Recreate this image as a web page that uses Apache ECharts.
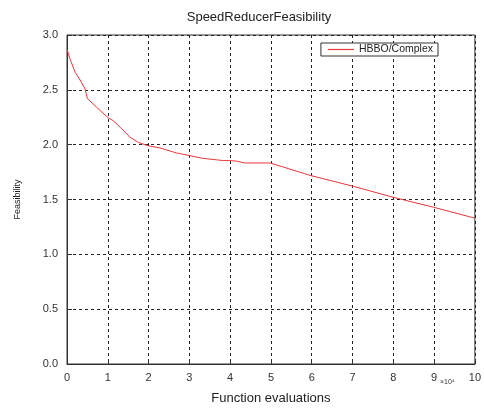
<!DOCTYPE html>
<html>
<head>
<meta charset="utf-8">
<script src="https://cdn.jsdelivr.net/npm/echarts@6/dist/echarts.min.js"></script>
<style>
  html, body { margin: 0; padding: 0; background: #fff; }
  #chart { width: 484px; height: 410px; }
</style>
</head>
<body>
<div id="chart"></div>
<script>
// Function evaluations (units of 10^4) and the best feasibility found
const evals = [0, 0.07, 0.2, 0.32, 0.44, 0.5, 0.73, 1.01, 1.13, 1.3, 1.54, 1.75, 1.99, 2.28, 2.68, 3.01, 3.34, 3.83, 4.0, 4.16, 4.36, 4.98, 5.96, 7.02, 8.0, 8.98, 10];
const feasibility = [2.87, 2.785, 2.66, 2.59, 2.51, 2.42, 2.34, 2.245, 2.22, 2.16, 2.07, 2.02, 1.99, 1.97, 1.925, 1.9, 1.875, 1.855, 1.855, 1.85, 1.833, 1.833, 1.72, 1.62, 1.52, 1.43, 1.33];
const seriesName = 'HBBO/Complex';
const xTicks = [0, 1, 2, 3, 4, 5, 6, 7, 8, 9, 10];
const yTicks = [0.0, 0.5, 1.0, 1.5, 2.0, 2.5, 3.0];

const chart = echarts.init(document.getElementById('chart'), null, { renderer: 'canvas' });
const font = 'Arial, "Liberation Sans", sans-serif';
const gridStyle = { color: '#222', type: [3, 3], width: 1 };

chart.setOption({
  animation: false,
  backgroundColor: '#fff',
  textStyle: { fontFamily: font },
  title: {
    text: 'SpeedReducerFeasibility',
    left: 254, top: 6, textAlign: 'center',
    textStyle: { fontSize: 13, fontWeight: 'normal', color: '#222', fontFamily: font }
  },
  legend: {
    data: [seriesName],
    right: 46, top: 43,
    orient: 'vertical',
    padding: [1, 5, 1, 7],
    backgroundColor: '#fff',
    borderColor: '#333', borderWidth: 1,
    icon: 'rect', itemWidth: 26, itemHeight: 1.2, itemGap: 0,
    textStyle: { fontSize: 10.5, color: '#222', fontFamily: font }
  },
  grid: { left: 67, right: 9, top: 35, bottom: 45, show: true, borderColor: '#333', borderWidth: 1 },
  xAxis: {
    type: 'value', min: xTicks[0], max: xTicks[xTicks.length - 1], interval: 1,
    name: 'Function evaluations', nameLocation: 'middle', nameGap: 28,
    nameTextStyle: { fontSize: 13, color: '#222', fontFamily: font },
    axisLine: { show: true, lineStyle: { color: '#333' } },
    axisTick: { show: true, inside: true, length: 5, lineStyle: { color: '#333' } },
    axisLabel: { fontSize: 11, color: '#333', margin: 8, formatter: v => String(v) },
    splitLine: { show: true, lineStyle: gridStyle }
  },
  yAxis: {
    type: 'value', min: yTicks[0], max: yTicks[yTicks.length - 1], interval: 0.5,
    name: 'Feasibility', nameLocation: 'middle', nameGap: 45,
    nameTextStyle: { fontSize: 9, color: '#222', fontFamily: font },
    axisLine: { show: true, lineStyle: { color: '#333' } },
    axisTick: { show: true, inside: true, length: 5, lineStyle: { color: '#333' } },
    axisLabel: { fontSize: 11, color: '#333', margin: 9, formatter: v => v.toFixed(1) },
    splitLine: { show: true, lineStyle: gridStyle }
  },
  graphic: [{
    type: 'text', left: 440, top: 379,
    style: { text: '×10⁴', fontSize: 7, fill: '#333', fontFamily: font }
  }],
  series: [{
    name: seriesName,
    type: 'line',
    data: evals.map((x, i) => [x, feasibility[i]]),
    showSymbol: false, symbol: 'none',
    lineStyle: { color: '#e8393b', width: 1 },
    itemStyle: { color: '#e8393b' }
  }]
});
</script>
</body>
</html>
